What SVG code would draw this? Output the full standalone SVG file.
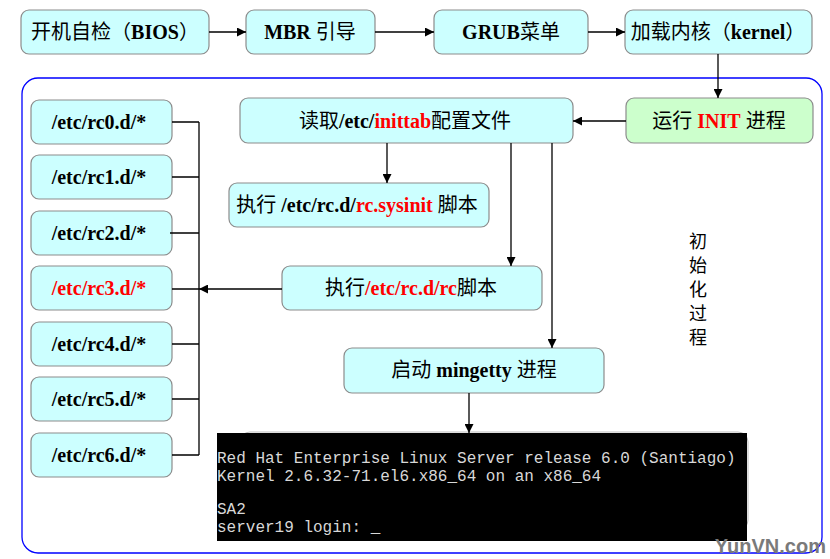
<svg xmlns="http://www.w3.org/2000/svg" width="830" height="559" viewBox="0 0 830 559">
<defs>
<marker id="ah" viewBox="0 0 10 10" refX="10" refY="5" markerWidth="9" markerHeight="9" markerUnits="userSpaceOnUse" orient="auto"><path d="M0,0 L10,5 L0,10 z" fill="#000"/></marker>
<style>
.b{fill:#ccffff;stroke:#8c8c8c;stroke-width:1.2}
.g{fill:#ccffcc;stroke:#8c8c8c;stroke-width:1.2}
.t{font-family:"Liberation Serif","Noto Sans CJK SC",serif;font-size:20px;font-weight:bold;fill:#000;text-anchor:middle}
.c{font-weight:normal}
.r{fill:#ff0000}
.l{stroke:#000;stroke-width:1.3;fill:none}
.a{stroke:#000;stroke-width:1.3;fill:none;marker-end:url(#ah)}
.m{font-family:"Liberation Mono","DejaVu Sans Mono",monospace;font-size:16px;fill:#d8d8d8}
</style>
</defs>
<rect x="0" y="0" width="830" height="559" fill="#fff"/>
<rect id="container" x="22" y="78" width="800" height="475" rx="16" fill="none" stroke="#0000ff" stroke-width="1.3"/>
<g id="n-bios"><rect class="b" x="21" y="10" width="188" height="44" rx="8"/><text class="t" x="115" y="39"><tspan class="c">开机自检（</tspan>BIOS<tspan class="c">）</tspan></text></g>
<g id="n-mbr"><rect class="b" x="246" y="10" width="129" height="44" rx="8"/><text class="t" x="310" y="39">MBR <tspan class="c">引导</tspan></text></g>
<g id="n-grub"><rect class="b" x="434" y="10" width="154" height="44" rx="8"/><text class="t" x="511" y="39">GRUB<tspan class="c">菜单</tspan></text></g>
<g id="n-kernel"><rect class="b" x="625" y="10" width="187" height="44" rx="8"/><text class="t" x="718" y="39"><tspan class="c">加载内核（</tspan>kernel<tspan class="c">）</tspan></text></g>
<g id="n-init"><rect class="g" x="626" y="98" width="187" height="45" rx="8"/><text class="t" x="719" y="128"><tspan class="c">运行 </tspan><tspan class="r">INIT</tspan><tspan class="c"> 进程</tspan></text></g>
<g id="n-inittab"><rect class="b" x="240" y="98" width="333" height="45" rx="8"/><text class="t" x="405" y="128"><tspan class="c">读取</tspan>/etc/<tspan class="r">inittab</tspan><tspan class="c">配置文件</tspan></text></g>
<g id="n-sysinit"><rect class="b" x="229" y="183" width="260" height="44" rx="8"/><text class="t" x="357" y="212"><tspan class="c">执行 </tspan>/etc/rc.d/<tspan class="r">rc.sysinit</tspan><tspan class="c"> 脚本</tspan></text></g>
<g id="n-rc"><rect class="b" x="282" y="266" width="260" height="44" rx="8"/><text class="t" x="411" y="295"><tspan class="c">执行</tspan><tspan class="r">/etc/rc.d/rc</tspan><tspan class="c">脚本</tspan></text></g>
<g id="n-mingetty"><rect class="b" x="344" y="348" width="260" height="45" rx="8"/><text class="t" x="474" y="377"><tspan class="c">启动 </tspan>mingetty<tspan class="c"> 进程</tspan></text></g>
<g id="n-rc0"><rect class="b" x="31" y="100" width="141" height="44" rx="8"/><text class="t" x="99" y="129">/etc/rc0.d/*</text></g>
<g id="n-rc1"><rect class="b" x="31" y="155" width="141" height="44" rx="8"/><text class="t" x="99" y="184">/etc/rc1.d/*</text></g>
<g id="n-rc2"><rect class="b" x="31" y="211" width="141" height="44" rx="8"/><text class="t" x="99" y="240">/etc/rc2.d/*</text></g>
<g id="n-rc3"><rect class="b" x="31" y="266" width="141" height="44" rx="8"/><text class="t r" x="99" y="295">/etc/rc3.d/*</text></g>
<g id="n-rc4"><rect class="b" x="31" y="322" width="141" height="44" rx="8"/><text class="t" x="99" y="351">/etc/rc4.d/*</text></g>
<g id="n-rc5"><rect class="b" x="31" y="377" width="141" height="44" rx="8"/><text class="t" x="99" y="406">/etc/rc5.d/*</text></g>
<g id="n-rc6"><rect class="b" x="31" y="433" width="141" height="44" rx="8"/><text class="t" x="99" y="462">/etc/rc6.d/*</text></g>
<g id="label"><text font-family="Noto Sans CJK SC,sans-serif" font-size="18" fill="#000" text-anchor="middle"><tspan x="698" y="248">初</tspan><tspan x="698" y="272">始</tspan><tspan x="698" y="296">化</tspan><tspan x="698" y="320">过</tspan><tspan x="698" y="344">程</tspan></text></g>
<g id="n-terminal">
<rect x="240" y="432" width="508" height="98" rx="10" fill="none" stroke="#bbbbbb" stroke-width="1"/>
<rect x="217" y="433" width="530" height="108" fill="#000"/>
<text class="m" x="217" y="463">Red Hat Enterprise Linux Server release 6.0 (Santiago)</text>
<text class="m" x="217" y="481">Kernel 2.6.32-71.el6.x86_64 on an x86_64</text>
<text class="m" x="217" y="514">SA2</text>
<text class="m" x="217" y="532">server19 login: _</text>
</g>
<g id="connectors">
<line class="a" x1="209" y1="32" x2="246" y2="32"/>
<line class="a" x1="375" y1="32" x2="434" y2="32"/>
<line class="a" x1="588" y1="32" x2="625" y2="32"/>
<line class="a" x1="718" y1="54" x2="718" y2="98"/>
<line class="a" x1="626" y1="121" x2="573" y2="121"/>
<line class="a" x1="387" y1="143" x2="387" y2="183"/>
<line class="a" x1="511" y1="143" x2="511" y2="266"/>
<line class="a" x1="552" y1="143" x2="552" y2="348"/>
<line class="a" x1="469" y1="393" x2="469" y2="433"/>
<line class="a" x1="282" y1="289" x2="199" y2="289"/>
<path class="l" d="M199,122 V455 M172,122 H199 M172,177 H199 M170,233 H199 M172,289 H199 M172,344 H199 M172,399 H199 M172,455 H199"/>
</g>
<text x="826" y="553" font-family="Liberation Sans,sans-serif" font-size="20" font-weight="bold" fill="#7a7a7a" text-anchor="end">YunVN.com</text>
</svg>
